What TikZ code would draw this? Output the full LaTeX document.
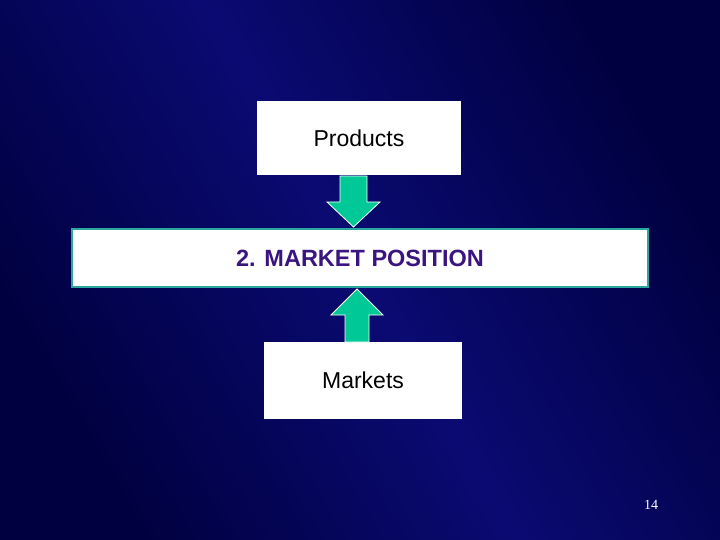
\documentclass[tikz,border=0pt]{standalone}
\usepackage{fontspec}
\setmainfont{Liberation Sans}
\newfontfamily\serifnum{Liberation Serif}
\definecolor{navyd}{HTML}{000040}
\definecolor{navym}{HTML}{0A0A72}
\definecolor{arrowc}{HTML}{00C896}
\definecolor{tealb}{HTML}{2AA8A0}
\definecolor{purp}{HTML}{3A1580}
\begin{document}
\begin{tikzpicture}[x=1bp,y=-1bp,
  wbox/.style={draw=none,fill=white,inner sep=0pt,font=\fontsize{23bp}{26bp}\selectfont},
  bigarrow/.style={fill=arrowc,draw=white,line width=0.8bp,line join=miter}]
\useasboundingbox (0,0) rectangle (720,540);
\shade[left color=navyd,right color=navyd,middle color=navym,shading angle=-60] (0,0) rectangle (720,540);
\node[wbox,minimum width=204bp,minimum height=74bp] (prod) at (359,138) {Products};
\node[wbox,draw=tealb,line width=1.5bp,minimum width=576bp,minimum height=58bp,text=purp,font=\fontsize{23.5bp}{26bp}\selectfont\bfseries] (mp) at (360,258) {2. MARKET POSITION};
\node[wbox,minimum width=198bp,minimum height=77bp] (mk) at (363,380.5) {Markets};
\draw[bigarrow] (340,176) -- (367,176) -- (367,202) -- (380,202) -- (353.5,227) -- (327,202) -- (340,202) -- cycle;
\draw[bigarrow] (345,342) -- (369,342) -- (369,315) -- (383,315) -- (357,289) -- (331,315) -- (345,315) -- cycle;
\node[text=white,font=\serifnum\fontsize{14bp}{16bp}\selectfont] (pg) at (651,505) {14};
\end{tikzpicture}
\end{document}
